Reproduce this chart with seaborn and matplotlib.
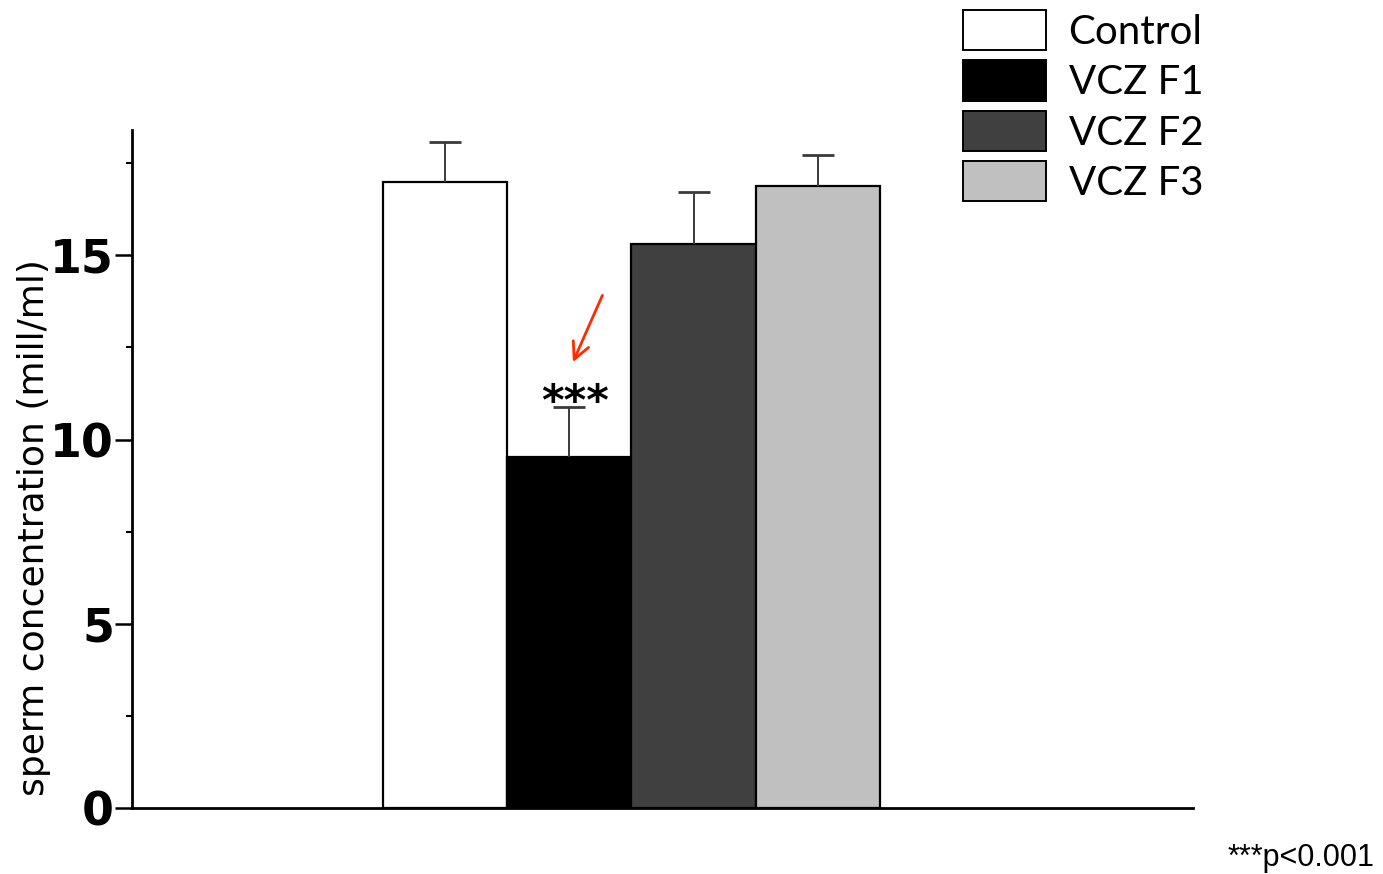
import matplotlib
matplotlib.use("Agg")
import matplotlib.pyplot as plt
import seaborn as sns
import pandas as pd

# data
conditions = ["Control", "VCZ F1", "VCZ F2", "VCZ F3"]
means = [17.0, 9.52, 15.3, 16.87]
sems = [1.08, 1.36, 1.43, 0.84]
bar_colors = ["#ffffff", "#000000", "#404040", "#c0c0c0"]
yticks = [0, 5, 10, 15]
minor_yticks = [2.5, 7.5, 12.5, 17.5]
stars = ["", "***", "", ""]

df = pd.DataFrame({"group": [""] * len(conditions), "condition": conditions, "value": means})

sns.set_style("white")
plt.rcParams["font.family"] = ["Lato", "DejaVu Sans"]
plt.rcParams["text.color"] = "black"
plt.rcParams["axes.labelcolor"] = "black"
plt.rcParams["ytick.color"] = "black"

fig = plt.figure(figsize=(13.83, 8.74), dpi=100)
ax = fig.add_axes([132 / 1383, 1 - 808 / 874, 1061 / 1383, 678 / 874])

sns.barplot(data=df, x="group", y="value", hue="condition", hue_order=conditions,
            palette=bar_colors, edgecolor="black", linewidth=1.6,
            errorbar=None, width=0.8, ax=ax, legend=False)

# bar centres, taken from the drawn patches (one per condition, in order)
bars = sorted([p for p in ax.patches if p.get_height() > 0], key=lambda p: p.get_x())
centres = [b.get_x() + b.get_width() / 2 for b in bars]

# upper-only error bars + significance marks
for i, xc in enumerate(centres):
    eb = ax.errorbar(xc, means[i], yerr=[[0], [sems[i]]], fmt="none", ecolor="#3a3a3a",
                     elinewidth=1.4, capsize=11.5, capthick=2.0, zorder=1)
    eb[1][0].set_visible(False)
    eb[1][1].set_color("#666666")
    if stars[i]:
        top = means[i] + sems[i]
        ax.text(xc + 0.01, top + 0.1, stars[i], ha="center", va="center",
                fontsize=31, fontweight="bold", family=["DejaVu Sans"])
        ax.annotate("", xy=(xc + 0.004, top + 1.15), xytext=(xc + 0.055, top + 3.1),
                    arrowprops=dict(arrowstyle="->", color="#ff2a00", lw=2.0,
                                    mutation_scale=30))

ax.set_xlim(-0.804, 0.904)
ax.set_ylim(0, 18.4)
ax.set_xlabel("")
ax.set_xticks([])
ax.set_yticks(yticks)
ax.set_yticks(minor_yticks, minor=True)
ax.set_yticklabels([str(t) for t in yticks], fontsize=33, fontweight="bold",
                   family=["DejaVu Sans"])
ax.tick_params(axis="y", which="major", direction="out", length=12, width=1.8, pad=1, left=True)
ax.tick_params(axis="y", which="minor", direction="out", length=4, width=1.5, left=True)
for sp in ["top", "right"]:
    ax.spines[sp].set_visible(False)
for sp in ["left", "bottom"]:
    ax.spines[sp].set_linewidth(2)
    ax.spines[sp].set_color("black")

ax.set_ylabel("sperm concentration (mill/ml)", fontsize=26, family=["DejaVu Sans"])
ax.yaxis.set_label_coords(-0.076, 0.414)

# legend
handles = [plt.Rectangle((0, 0), 1, 1, facecolor=c, edgecolor="black", linewidth=1.4)
           for c in bar_colors]
fig.legend(handles, conditions, loc="upper left",
           bbox_to_anchor=(963 / 1383, 1 - 10 / 874), bbox_transform=fig.transFigure,
           frameon=False, fontsize=29, handlelength=2.05, handleheight=1.16,
           labelspacing=0.24, handletextpad=0.57, borderpad=0, borderaxespad=0)

fig.text(1375 / 1383, 1 - 858 / 874, "***p<0.001", ha="right", va="center",
         fontsize=22, family=["Liberation Sans", "DejaVu Sans"])

fig.savefig("out.png", dpi=100)
